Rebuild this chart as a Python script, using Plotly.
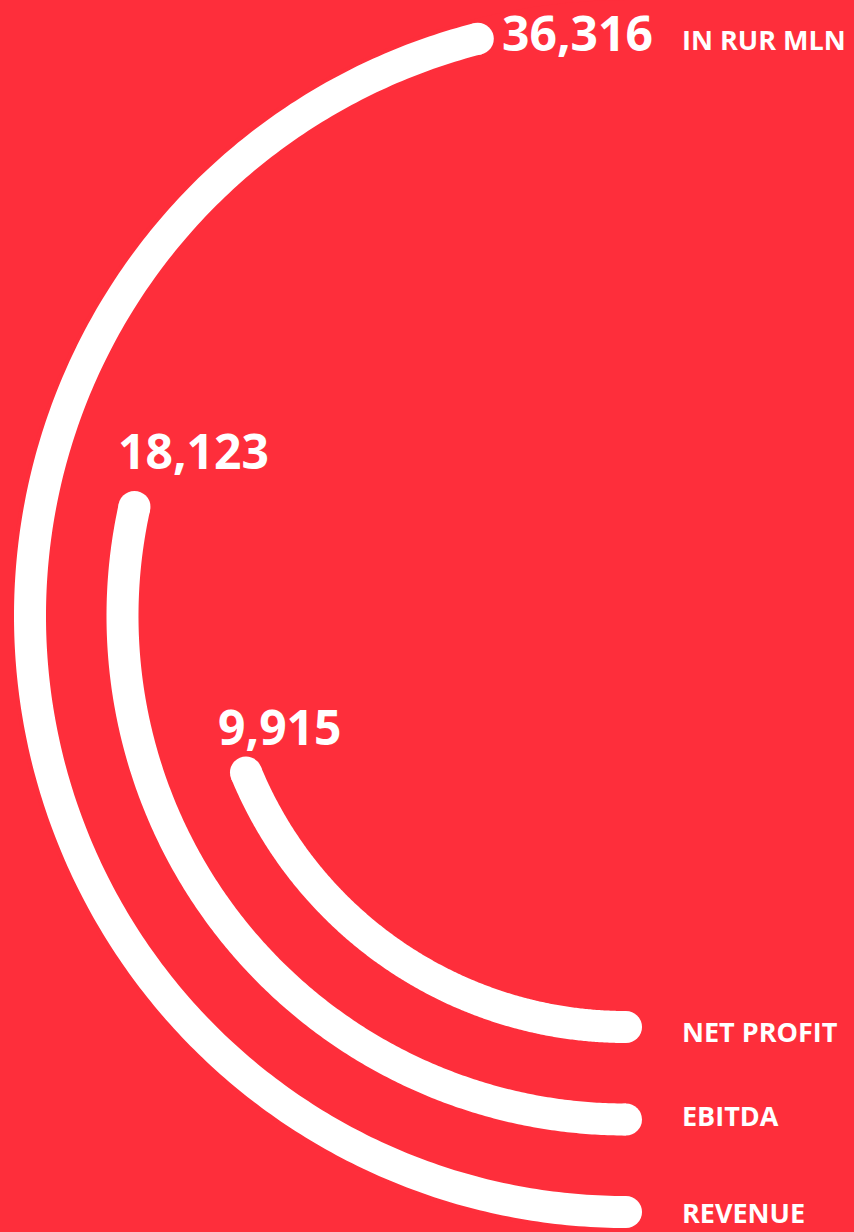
import numpy as np
import plotly.graph_objects as go

# ---- data ----
categories = ["REVENUE", "EBITDA", "NET PROFIT"]
values = [36316, 18123, 9915]
value_labels = ["36,316", "18,123", "9,915"]
unit_label = "IN RUR MLN"

# ---- style / scale constants ----
BG = "#FE2E3B"
W, H = 854, 1232
R_OUT = 596          # radius of outermost ring (px units of radial axis)
RING_GAP = 92.5      # distance between rings
STROKE = 32          # ring thickness
START = 270          # arcs start at bottom
MAX_SWEEP = 165.6    # sweep of the largest value (deg)
EXP = 0.69           # power scale exponent for the sweep
R_AXIS = 616         # radial axis extent (px)
CX = 626             # polar centre x (px)

vmax = max(values)
fig = go.Figure()

for i, (cat, v) in enumerate(zip(categories, values)):
    r = R_OUT - i * RING_GAP
    sweep = MAX_SWEEP * (v / vmax) ** EXP
    theta = np.linspace(START, START - sweep, 300)
    fig.add_trace(go.Scatterpolar(
        r=np.full_like(theta, r), theta=theta, mode="lines",
        line=dict(color="white", width=STROKE), cliponaxis=False,
        hoverinfo="skip", name=cat))
    fig.add_trace(go.Scatterpolar(
        r=[r, r], theta=[START, START - sweep], mode="markers",
        marker=dict(color="white", size=STROKE, line=dict(width=0)),
        cliponaxis=False, hoverinfo="skip", showlegend=False))

fig.update_layout(
    width=W, height=H,
    margin=dict(l=0, r=0, t=0, b=0),
    paper_bgcolor=BG, plot_bgcolor=BG,
    showlegend=False,
    polar=dict(
        domain=dict(x=[(CX - R_AXIS) / W, CX / W], y=[0, 1]),
        sector=[90, 270],
        bgcolor=BG,
        hole=0,
        radialaxis=dict(range=[0, R_AXIS], visible=False, showgrid=False),
        angularaxis=dict(visible=False, showgrid=False, rotation=0,
                         direction="counterclockwise"),
    ),
)

big = dict(family="Open Sans", size=48, color="white", weight="bold")
small = dict(family="Open Sans", size=27, color="white", weight="bold")

# value labels (left edge px, vertical centre px)
value_pos = [(501, 32), (117, 450), (217, 726)]
for txt, (px, py) in zip(value_labels, value_pos):
    fig.add_annotation(text=txt, x=px / W, y=1 - py / H, xref="paper", yref="paper",
                       xanchor="left", yanchor="middle", showarrow=False, font=big,
                       borderpad=0)

fig.add_annotation(text=unit_label, x=681 / W, y=1 - 40 / H, xref="paper", yref="paper",
                   xanchor="left", yanchor="middle", showarrow=False, font=small,
                   borderpad=0)

cat_pos = [1212, 1115, 1031]
for cat, py in zip(categories, cat_pos):
    fig.add_annotation(text=cat, x=681 / W, y=1 - py / H, xref="paper", yref="paper",
                       xanchor="left", yanchor="middle", showarrow=False, font=small,
                       borderpad=0)

fig.write_html("out.html",
               config={"displayModeBar": False, "staticPlot": True},
               post_script="document.body.style.margin='0';document.body.style.padding='0';")
